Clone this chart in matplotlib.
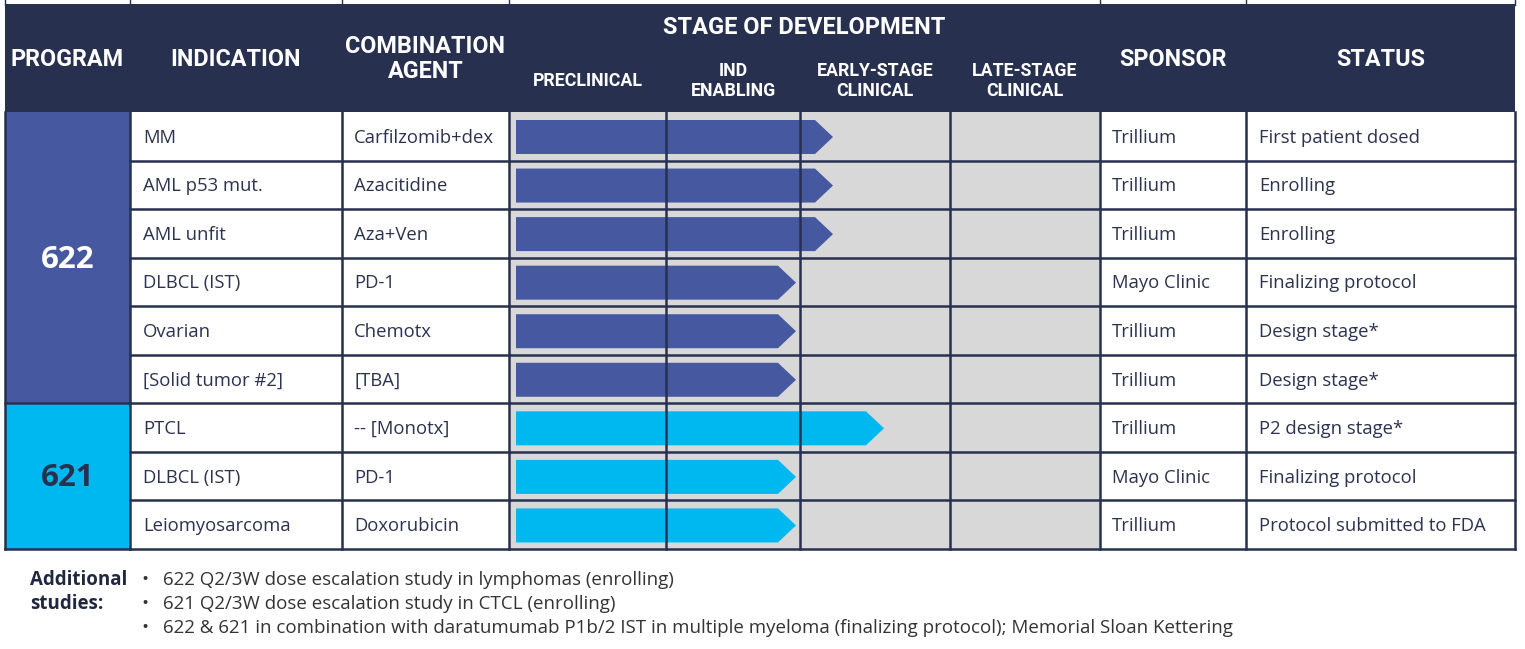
import numpy as np
import matplotlib.pyplot as plt
from matplotlib.patches import Rectangle, Polygon

# ============================================================
# Data
# ============================================================
programs = ["622", "621"]
program_rows = [6, 3]
indications = ["MM", "AML p53 mut.", "AML unfit", "DLBCL (IST)", "Ovarian",
               "[Solid tumor #2]", "PTCL", "DLBCL (IST)", "Leiomyosarcoma"]
agents = ["Carfilzomib+dex", "Azacitidine", "Aza+Ven", "PD-1", "Chemotx",
          "[TBA]", "-- [Monotx]", "PD-1", "Doxorubicin"]
# progress measured in stages (0 = start of preclinical, 4 = end of late-stage)
progress = [2.22, 2.22, 2.22, 1.97, 1.97, 1.97, 2.56, 1.97, 1.97]
sponsors = ["Trillium", "Trillium", "Trillium", "Mayo Clinic", "Trillium",
            "Trillium", "Trillium", "Mayo Clinic", "Trillium"]
statuses = ["First patient dosed", "Enrolling", "Enrolling", "Finalizing protocol",
            "Design stage*", "Design stage*", "P2 design stage*",
            "Finalizing protocol", "Protocol submitted to FDA"]
stages = ["PRECLINICAL", "IND\nENABLING", "EARLY-STAGE\nCLINICAL", "LATE-STAGE\nCLINICAL"]
notes = ["622 Q2/3W dose escalation study in lymphomas (enrolling)",
         "621 Q2/3W dose escalation study in CTCL (enrolling)",
         "622 & 621 in combination with daratumumab P1b/2 IST in multiple myeloma "
         "(finalizing protocol); Memorial Sloan Kettering"]

# ============================================================
# Layout / style
# ============================================================
NAVY = "#27314f"
GRID = "#27314f"
BLUE = "#4659a0"
CYAN = "#00b8f0"
GREY = "#d8d8d8"
TXT = "#2b3350"

col_x = [5, 130, 342, 509, 666, 800, 950, 1100, 1246, 1515]
stage_edges = col_x[3:8]
head_top, head_bot = 4, 112
row_h = (549 - head_bot) / len(indications)

fig = plt.figure(figsize=(15.25, 6.49), dpi=100)
ax = fig.add_axes([0, 0, 1, 1])
ax.set_xlim(0, 1525)
ax.set_ylim(649, 0)
ax.axis("off")

hfont = dict(family="Roboto", weight="bold", color="white")
bfont = dict(family="Open Sans", color=TXT, fontsize=13.3)

# Header
ax.add_patch(Rectangle((col_x[0], head_top), col_x[-1] - col_x[0], head_bot - head_top,
                       color=NAVY, lw=0))
for x in [col_x[0], col_x[1], col_x[2], col_x[3], col_x[7], col_x[8], col_x[9]]:
    ax.plot([x, x], [0, head_top + 1], color=GRID, lw=1)
mid = lambda i: (col_x[i] + col_x[i + 1]) / 2
ax.text(mid(0), 59, "PROGRAM", ha="center", va="center", fontsize=16.8, **hfont)
ax.text(mid(1), 59, "INDICATION", ha="center", va="center", fontsize=16.8, **hfont)
ax.text(mid(2), 59, "COMBINATION\nAGENT", ha="center", va="center", fontsize=16.8,
        linespacing=1.1, **hfont)
ax.text((col_x[3] + col_x[7]) / 2, 27, "STAGE OF DEVELOPMENT", ha="center", va="center",
        fontsize=17, **hfont)
for i, s in enumerate(stages):
    ax.text(mid(3 + i), 81, s, ha="center", va="center", fontsize=12.8,
            linespacing=1.1, **hfont)
ax.text(mid(7), 59, "SPONSOR", ha="center", va="center", fontsize=16.8, **hfont)
ax.text(mid(8), 59, "STATUS", ha="center", va="center", fontsize=16.8, **hfont)

# Stage background
ax.add_patch(Rectangle((col_x[3], head_bot), col_x[7] - col_x[3], 549 - head_bot,
                       color=GREY, lw=0, zorder=0))

# Program cells
r0 = 0
for prog, n, c, tc in zip(programs, program_rows, [BLUE, CYAN], ["white", NAVY]):
    y0 = head_bot + r0 * row_h
    ax.add_patch(Rectangle((col_x[0], y0), col_x[1] - col_x[0], n * row_h, color=c, lw=0))
    ax.text(mid(0), y0 + n * row_h / 2 + 2, prog, ha="center", va="center", fontsize=22.5,
            family="Open Sans", weight="bold", color=tc)
    ax.plot([col_x[0], col_x[1]], [y0 + n * row_h] * 2, color=GRID, lw=1.8, zorder=5)
    r0 += n

# Rows
row_colors = [BLUE] * program_rows[0] + [CYAN] * program_rows[1]
for i in range(len(indications)):
    yt = head_bot + i * row_h
    yc = yt + row_h / 2 + 1.5
    ax.text(col_x[1] + 13, yc, indications[i], ha="left", va="center", **bfont)
    ax.text(col_x[2] + 12, yc, agents[i], ha="left", va="center", **bfont)
    ax.text(col_x[7] + 12, yc, sponsors[i], ha="left", va="center", **bfont)
    ax.text(col_x[8] + 13, yc, statuses[i], ha="left", va="center", **bfont)
    # arrow bar
    x0 = col_x[3] + 7
    xt = np.interp(progress[i], np.arange(5), stage_edges)
    xr = xt - 18
    bt, bb = yt + 8, yt + 42
    ax.add_patch(Polygon([(x0, bt), (xr, bt), (xt, (bt + bb) / 2), (xr, bb), (x0, bb)],
                         closed=True, color=row_colors[i], lw=0, zorder=3))
    ax.plot([col_x[1], col_x[-1]], [yt + row_h] * 2, color=GRID, lw=1.8, zorder=5)

# vertical grid lines in body
for x in col_x:
    ax.plot([x, x], [head_bot, 549], color=GRID, lw=1.8, zorder=5)

# Footnote
nfont = dict(fontsize=13.5, family="Open Sans")
ax.text(30, 580, "Additional", ha="left", va="center", weight="bold", color="#1f2840", **nfont)
ax.text(30, 604, "studies:", ha="left", va="center", weight="bold", color="#1f2840", **nfont)
for j, note in enumerate(notes):
    y = 580 + j * 24
    ax.text(141, y, "•", ha="left", va="center", color="#333333", **nfont)
    ax.text(163, y, note, ha="left", va="center", color="#333333", **nfont)

fig.savefig("out.png", dpi=100, facecolor="white")
